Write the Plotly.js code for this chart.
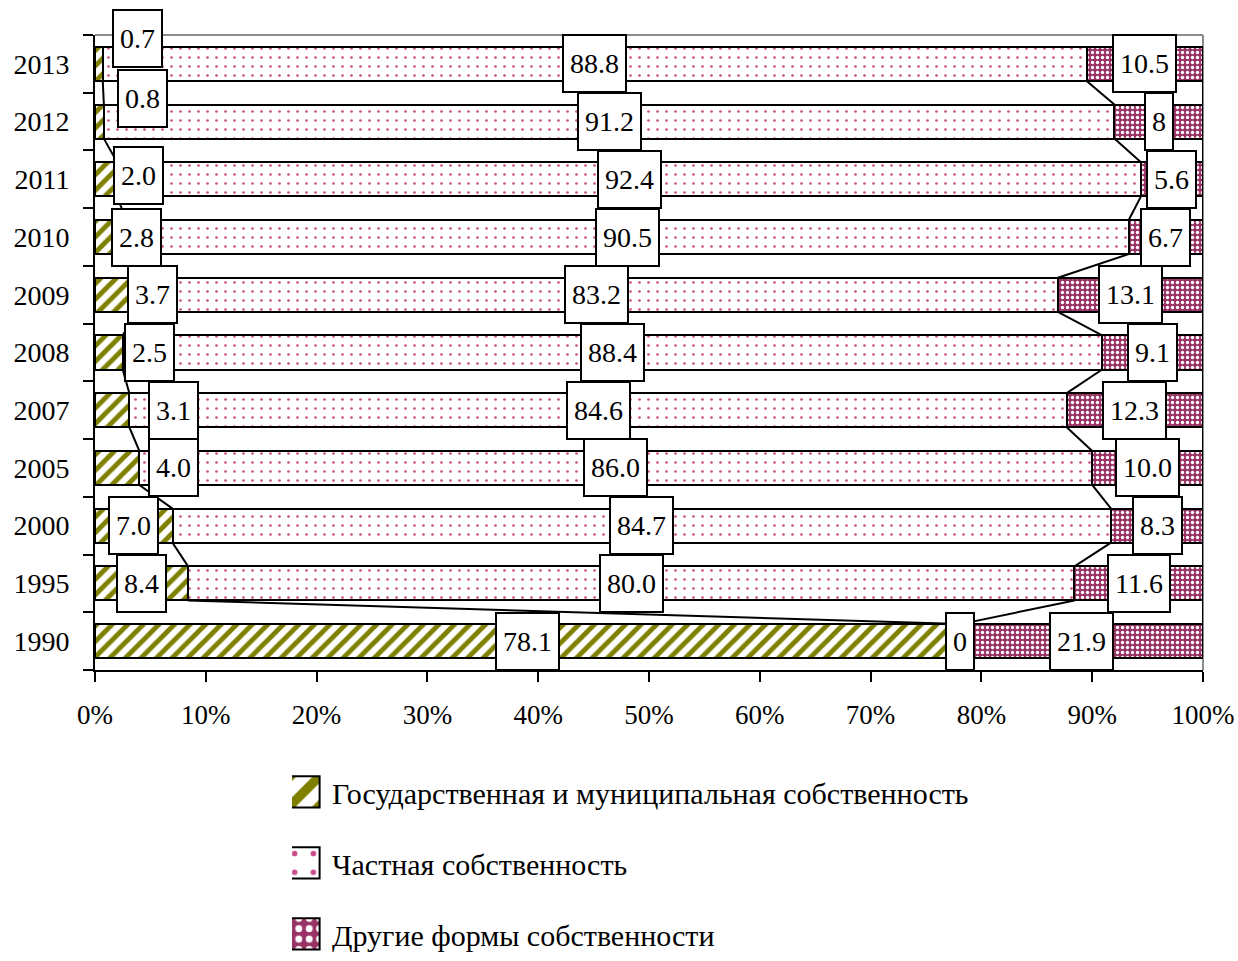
<!DOCTYPE html>
<html><head><meta charset="utf-8">
<script src="https://cdn.plot.ly/plotly-3.0.1.min.js"></script>
<style>body{margin:0;background:#fff}#chart{width:1238px;height:961px}</style>
</head><body><div id="chart"></div>
<script>
// ---- data ----
const years = ['1990','1995','2000','2005','2007','2008','2009','2010','2011','2012','2013'];
const stateVals   = [78.1, 8.4, 7.0, 4.0, 3.1, 2.5, 3.7, 2.8, 2.0, 0.8, 0.7];
const privateVals = [0, 80.0, 84.7, 86.0, 84.6, 88.4, 83.2, 90.5, 92.4, 91.2, 88.8];
const otherVals   = [21.9, 11.6, 8.3, 10.0, 12.3, 9.1, 13.1, 6.7, 5.6, 8, 10.5];
const stateLabels   = ['78.1','8.4','7.0','4.0','3.1','2.5','3.7','2.8','2.0','0.8','0.7'];
const privateLabels = ['0','80.0','84.7','86.0','84.6','88.4','83.2','90.5','92.4','91.2','88.8'];
const otherLabels   = ['21.9','11.6','8.3','10.0','12.3','9.1','13.1','6.7','5.6','8','10.5'];
const seriesNames = ['Государственная и муниципальная собственность','Частная собственность','Другие формы собственности'];
const xTickVals = [0,10,20,30,40,50,60,70,80,90,100];
const xTickText = ['0%','10%','20%','30%','40%','50%','60%','70%','80%','90%','100%'];

// ---- manual label offsets (px) for the small state labels ----
const stateLabelShiftX = [0,0,0,56,61,41,37,26,32,43,39];
const stateLabelShiftY = [0,0,0,0,0,0,0,0,4,23,25];

const FONT = 'Liberation Serif';
const bargap = 0.41;
const hw = (1 - bargap) / 2;

const traces = [
  {name: seriesNames[0], y: years, x: stateVals, type:'bar', orientation:'h', legendgroup:'g1',
   marker:{color:'#ffffff', line:{color:'#000', width:2},
     pattern:{shape:'/', bgcolor:'#ffffff', fgcolor:'#808000', size:11, solidity:0.45, fillmode:'replace'}},
   hoverinfo:'none'},
  {name: seriesNames[1], y: years, x: privateVals, type:'bar', orientation:'h', legendgroup:'g2',
   marker:{color:'#ffffff', line:{color:'#000', width:2},
     pattern:{shape:'.', bgcolor:'#ffffff', fgcolor:'#cc4c8c', size:9, solidity:0.07, fillmode:'replace'}},
   hoverinfo:'none'},
  {name: seriesNames[2], y: years, x: otherVals, type:'bar', orientation:'h', legendgroup:'g3',
   marker:{color:'#993366', line:{color:'#000', width:2},
     pattern:{shape:'.', bgcolor:'#993366', fgcolor:'#ffffff', size:5, solidity:0.35, fillmode:'replace'}},
   hoverinfo:'none'}
];

const cum1 = stateVals.map(v => v);
const cum2 = stateVals.map((v,i) => v + privateVals[i]);
const cum3 = stateVals.map((v,i) => v + privateVals[i] + otherVals[i]);

const shapes = [];
[cum1, cum2, cum3].forEach(c => {
  for (let i = 0; i < years.length - 1; i++) {
    shapes.push({type:'line', xref:'x', yref:'y', x0:c[i], y0:i + hw, x1:c[i+1], y1:i + 1 - hw,
      line:{color:'#000', width:2}, layer:'above'});
  }
});
shapes.push({type:'line', xref:'paper', yref:'paper', x0:0, x1:1, y0:1, y1:1, line:{color:'#8c8c8c', width:2}, layer:'below'});
shapes.push({type:'line', xref:'paper', yref:'paper', x0:1, x1:1, y0:0, y1:1, line:{color:'#8c8c8c', width:2}, layer:'below'});

const annotations = [];
function box(x, yIdx, text, xs, ys) {
  return {x: x, y: yIdx, xref:'x', yref:'y', text: text, showarrow:false,
    xshift: xs || 0, yshift: ys || 0, height: 43,
    bgcolor:'#ffffff', bordercolor:'#000000', borderwidth:2, borderpad:6,
    font:{family:FONT, size:28, color:'#000000'}};
}
for (let i = 0; i < years.length; i++) {
  annotations.push(box(stateVals[i]/2, i, stateLabels[i], stateLabelShiftX[i], stateLabelShiftY[i]));
  annotations.push(box(cum1[i] + privateVals[i]/2, i, privateLabels[i]));
  annotations.push(box(cum2[i] + otherVals[i]/2, i, otherLabels[i]));
}

const layout = {
  width:1238, height:961,
  margin:{l:95, r:35, t:35, b:291, autoexpand:false},
  paper_bgcolor:'#fff', plot_bgcolor:'#fff',
  barmode:'stack', bargap: bargap,
  font:{family:FONT, size:27, color:'#000'},
  xaxis:{range:[0,100], tickmode:'array', tickvals:xTickVals, ticktext:xTickText, showgrid:false, zeroline:false,
    showline:true, linecolor:'#000', linewidth:2, ticks:'outside', ticklen:10, tickwidth:2, tickcolor:'#000',
    ticklabelstandoff:10, tickfont:{family:FONT, size:27}},
  yaxis:{type:'category', showgrid:false, zeroline:false, showline:true, linecolor:'#000', linewidth:2,
    ticks:'outside', ticklen:10, tickwidth:2, tickcolor:'#000', tickson:'boundaries',
    ticklabelstandoff:18, tickfont:{family:FONT, size:28}, range:[-0.5, years.length - 0.5]},
  showlegend:true,
  legend:{orientation:'v', x:0.1778, xanchor:'left', y:-0.151, yanchor:'top', traceorder:'grouped',
    tracegroupgap:29, font:{family:FONT, size:30}, bgcolor:'rgba(0,0,0,0)'},
  shapes: shapes,
  annotations: annotations
};

Plotly.newPlot('chart', traces, layout, {displayModeBar:false}).then(gd => {
  document.querySelectorAll('.legendpoints path').forEach(p => {
    const t = p.getAttribute('transform') || '';
    p.setAttribute('transform', t + ' translate(-8,0) scale(2.6)');
    p.style.vectorEffect = 'non-scaling-stroke';
  });
});
</script>
</body></html>
